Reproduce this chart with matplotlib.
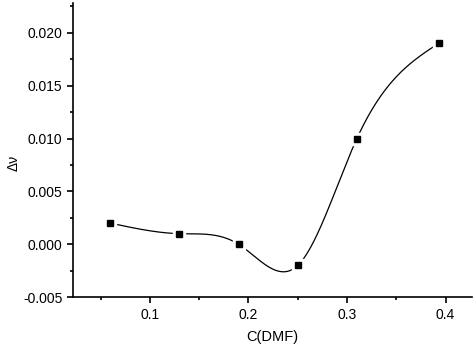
import numpy as np
import matplotlib.pyplot as plt
from matplotlib.ticker import MultipleLocator, FormatStrFormatter

# data
c_dmf = [0.06, 0.13, 0.19, 0.25, 0.31, 0.393]
delta_nu = [0.002, 0.001, 0.000, -0.002, 0.010, 0.019]


def natural_spline(x, y, n=400):
    x = np.asarray(x, float)
    y = np.asarray(y, float)
    k = len(x)
    h = np.diff(x)
    A = np.zeros((k, k))
    b = np.zeros(k)
    A[0, 0] = A[-1, -1] = 1
    for i in range(1, k - 1):
        A[i, i - 1] = h[i - 1]
        A[i, i] = 2 * (h[i - 1] + h[i])
        A[i, i + 1] = h[i]
        b[i] = 3 * ((y[i + 1] - y[i]) / h[i] - (y[i] - y[i - 1]) / h[i - 1])
    cc = np.linalg.solve(A, b)
    xs = np.linspace(x[0], x[-1], n)
    idx = np.clip(np.searchsorted(x, xs) - 1, 0, k - 2)
    dx = xs - x[idx]
    bb = (y[idx + 1] - y[idx]) / h[idx] - h[idx] * (2 * cc[idx] + cc[idx + 1]) / 3
    dd = (cc[idx + 1] - cc[idx]) / (3 * h[idx])
    ys = y[idx] + bb * dx + cc[idx] * dx ** 2 + dd * dx ** 3
    return xs, ys


plt.rcParams['font.family'] = ['Liberation Sans', 'DejaVu Sans']
fig = plt.figure(figsize=(4.77, 3.5), dpi=100)
ax = fig.add_axes([0.153, 0.151, 0.837, 0.84])

xs, ys = natural_spline(c_dmf, delta_nu)
ax.plot(xs, ys, color='black', lw=0.9, zorder=2)
# white halo so the curve stops short of the markers
ax.plot(c_dmf, delta_nu, 's', color='white', ms=8, zorder=3)
ax.plot(c_dmf, delta_nu, 's', color='black', ms=5, zorder=4)

ax.set_xlim(0.022, 0.427)
ax.set_ylim(-0.005, 0.0228)
ax.xaxis.set_major_locator(MultipleLocator(0.1))
ax.xaxis.set_minor_locator(MultipleLocator(0.05))
ax.yaxis.set_major_locator(MultipleLocator(0.005))
ax.yaxis.set_minor_locator(MultipleLocator(0.0025))
ax.xaxis.set_major_formatter(FormatStrFormatter('%.1f'))
ax.yaxis.set_major_formatter(FormatStrFormatter('%.3f'))

for s in ['top', 'right']:
    ax.spines[s].set_visible(False)
for s in ['left', 'bottom']:
    ax.spines[s].set_linewidth(1.2)
ax.tick_params(which='major', direction='out', length=4, width=1.2, labelsize=10)
ax.tick_params(which='minor', direction='out', length=2.5, width=1.2)

ax.set_xlabel('C(DMF)', fontsize=10.5, labelpad=6)
ax.set_ylabel('Δν', fontsize=10, va='center')
ax.yaxis.set_label_coords(-0.148, 0.455)

fig.savefig('out.png', dpi=100)
